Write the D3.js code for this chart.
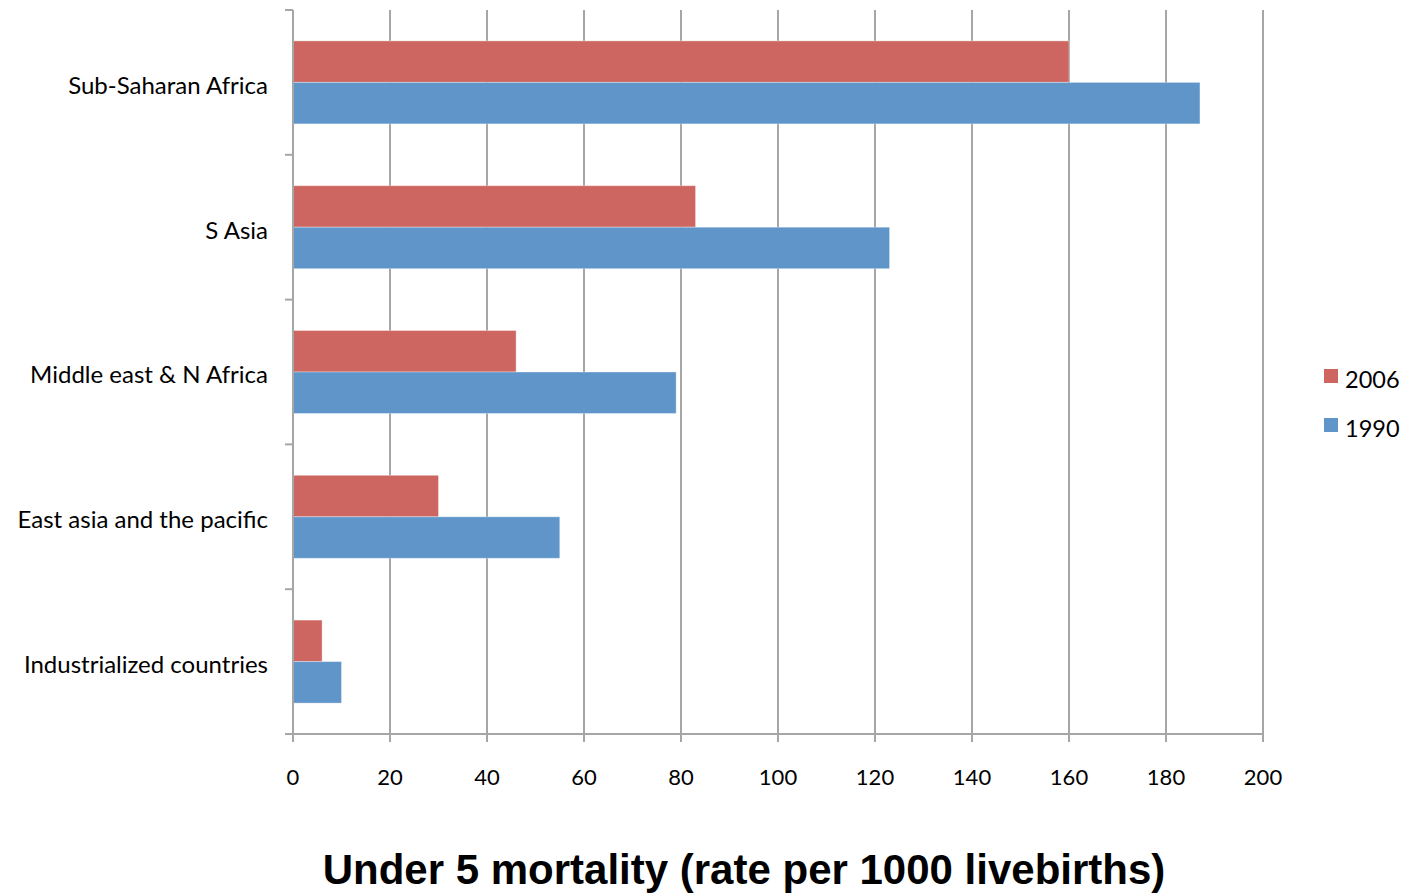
<!DOCTYPE html>
<html><head><meta charset="utf-8">
<script src="https://cdn.jsdelivr.net/npm/d3@7"></script>
<style>body{margin:0;background:#fff}</style>
</head><body>
<svg id="c" width="1404" height="895"></svg>
<script>
const categories = ["Sub-Saharan Africa","S Asia","Middle east & N Africa","East asia and the pacific","Industrialized countries"];
const values2006 = [160, 83, 46, 30, 6];
const values1990 = [187, 123, 79, 55, 10];
const seriesNames = ["2006","1990"];
const xTicks = [0,20,40,60,80,100,120,140,160,180,200];
const title = "Under 5 mortality (rate per 1000 livebirths)";

const colors = {"2006":"#CD6660","1990":"#5F95C9"};
const svg = d3.select("#c");
const L = 293, R = 1263, T = 10, B = 734;
const x = d3.scaleLinear().domain([0,200]).range([L,R]);
const y = d3.scaleBand().domain(categories).range([T,B]);
const labelFont = "Lato, 'Open Sans', sans-serif";

// gridlines
svg.append("g").selectAll("line").data(xTicks.slice(1)).join("line")
  .attr("x1",d=>x(d)).attr("x2",d=>x(d)).attr("y1",T).attr("y2",B)
  .attr("stroke","#a6a6a6").attr("stroke-width",2);

const bw = 41.5;
const data = [];
categories.forEach((c,i)=>{
  data.push({c, s:"2006", v:values2006[i], off:-bw});
  data.push({c, s:"1990", v:values1990[i], off:0});
});
svg.append("g").selectAll("rect").data(data).join("rect")
  .attr("x",x(0)).attr("width",d=>x(d.v)-x(0))
  .attr("y",d=>y(d.c)+y.bandwidth()/2+d.off).attr("height",bw)
  .attr("fill",d=>colors[d.s]).attr("stroke","rgba(255,255,255,0.35)").attr("stroke-width",1);

// y axis
const ya = svg.append("g").attr("transform",`translate(${L},0)`);
ya.append("line").attr("x1",0).attr("x2",0).attr("y1",T).attr("y2",B).attr("stroke","#a6a6a6").attr("stroke-width",2);
const yEdges = categories.map(c=>y(c)).concat([B]);
ya.selectAll("line.t").data(yEdges).join("line").attr("class","t")
  .attr("x1",-8).attr("x2",0).attr("y1",d=>d).attr("y2",d=>d).attr("stroke","#a6a6a6").attr("stroke-width",2);
ya.selectAll("text").data(categories).join("text")
  .attr("x",-25).attr("y",d=>y(d)+y.bandwidth()/2+3).attr("dy","0.35em")
  .attr("text-anchor","end").attr("font-family",labelFont).attr("font-size",24).attr("fill","#000").text(d=>d);

// x axis
const xa = svg.append("g");
xa.append("line").attr("x1",L).attr("x2",R).attr("y1",B).attr("y2",B).attr("stroke","#a6a6a6").attr("stroke-width",2);
xa.selectAll("line.t").data(xTicks).join("line").attr("class","t")
  .attr("x1",d=>x(d)).attr("x2",d=>x(d)).attr("y1",B).attr("y2",B+8).attr("stroke","#a6a6a6").attr("stroke-width",2);
xa.selectAll("text").data(xTicks).join("text")
  .attr("x",d=>x(d)).attr("y",785).attr("text-anchor","middle")
  .attr("font-family",labelFont).attr("font-size",22).attr("fill","#000").text(d=>d);

// title
svg.append("text").attr("x",744).attr("y",884).attr("text-anchor","middle")
  .attr("font-family","'Liberation Sans', Arial, sans-serif").attr("font-weight","bold").attr("font-size",42)
  .attr("fill","#000").text(title);

// legend
const lg = svg.append("g").selectAll("g").data(seriesNames).join("g")
  .attr("transform",(d,i)=>`translate(1324,${369+i*49})`);
lg.append("rect").attr("width",14).attr("height",14).attr("fill",d=>colors[d]);
lg.append("text").attr("x",21).attr("y",10).attr("dy","0.38em").attr("font-family",labelFont).attr("font-size",23.5).attr("fill","#000").text(d=>d);
</script>
</body></html>
